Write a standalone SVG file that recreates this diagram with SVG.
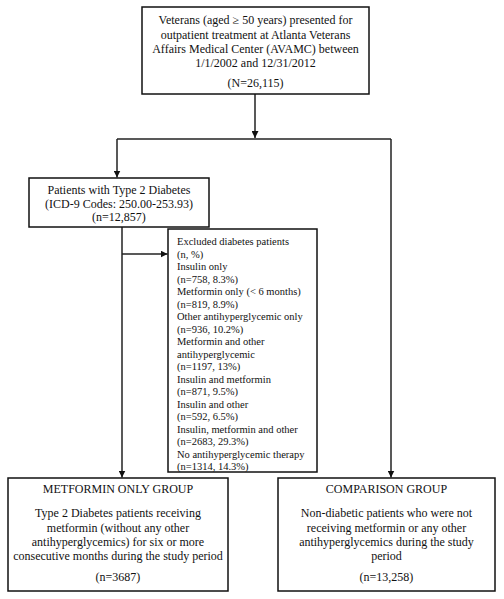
<svg xmlns="http://www.w3.org/2000/svg" width="504" height="599" viewBox="0 0 504 599">
<style>
.box{fill:#fff;stroke:#111;stroke-width:1.5}
.t{font-family:"Liberation Serif","Times New Roman",serif;font-size:12px;fill:#111}
.c{text-anchor:middle}
.s{font-size:10.5px}
.ln{fill:none;stroke:#222;stroke-width:1.5}
</style>
<defs>
<marker id="ah" viewBox="0 0 10 10" refX="10" refY="5" markerWidth="7" markerHeight="7" markerUnits="userSpaceOnUse" orient="auto">
<path d="M0,0 L10,5 L0,10 z" fill="#111"/>
</marker>
</defs>
<g id="connectors">
<line class="ln" x1="255" y1="94" x2="255" y2="138" marker-end="url(#ah)"/>
<line class="ln" x1="117" y1="139" x2="391" y2="139"/>
<line class="ln" x1="117" y1="139" x2="117" y2="177.5" marker-end="url(#ah)"/>
<line class="ln" x1="391" y1="139" x2="391" y2="477.5" marker-end="url(#ah)"/>
<line class="ln" x1="122" y1="227" x2="122" y2="477.5" marker-end="url(#ah)"/>
<line class="ln" x1="122" y1="254" x2="167.5" y2="254" marker-end="url(#ah)"/>
</g>
<g id="veterans">
<rect class="box" x="142" y="7" width="227" height="87"/>
<text class="t c" x="255.5" y="24">Veterans (aged ≥ 50 years) presented for</text>
<text class="t c" x="255.5" y="38.5">outpatient treatment at Atlanta Veterans</text>
<text class="t c" x="255.5" y="53">Affairs Medical Center (AVAMC) between</text>
<text class="t c" x="255.5" y="67">1/1/2002 and 12/31/2012</text>
<text class="t c" x="255.5" y="87">(N=26,115)</text>
</g>
<g id="diabetes">
<rect class="box" x="29" y="178" width="180" height="49"/>
<text class="t c" x="119" y="194">Patients with Type 2 Diabetes</text>
<text class="t c" x="119" y="207.5">(ICD-9 Codes: 250.00-253.93)</text>
<text class="t c" x="119" y="221">(n=12,857)</text>
</g>
<g id="excluded">
<rect class="box" x="168" y="229" width="149" height="243"/>
<text class="t s" x="177">
<tspan x="177" y="245">Excluded diabetes patients</tspan>
<tspan x="177" y="257.5">(n, %)</tspan>
<tspan x="177" y="270">Insulin only</tspan>
<tspan x="177" y="282.5">(n=758, 8.3%)</tspan>
<tspan x="177" y="295">Metformin only (&lt; 6 months)</tspan>
<tspan x="177" y="307.5">(n=819, 8.9%)</tspan>
<tspan x="177" y="320">Other antihyperglycemic only</tspan>
<tspan x="177" y="332.5">(n=936, 10.2%)</tspan>
<tspan x="177" y="345">Metformin and other</tspan>
<tspan x="177" y="357.5">antihyperglycemic</tspan>
<tspan x="177" y="370">(n=1197, 13%)</tspan>
<tspan x="177" y="382.5">Insulin and metformin</tspan>
<tspan x="177" y="395">(n=871, 9.5%)</tspan>
<tspan x="177" y="407.5">Insulin and other</tspan>
<tspan x="177" y="420">(n=592, 6.5%)</tspan>
<tspan x="177" y="432.5">Insulin, metformin and other</tspan>
<tspan x="177" y="445">(n=2683, 29.3%)</tspan>
<tspan x="177" y="457.5">No antihyperglycemic therapy</tspan>
<tspan x="177" y="470">(n=1314, 14.3%)</tspan>
</text>
</g>
<g id="metformin">
<rect class="box" x="8" y="478" width="220" height="113"/>
<text class="t c" x="118" y="493">METFORMIN ONLY GROUP</text>
<text class="t c" x="118" y="517">Type 2 Diabetes patients receiving</text>
<text class="t c" x="118" y="531.5">metformin (without any other</text>
<text class="t c" x="118" y="546">antihyperglycemics) for six or more</text>
<text class="t c" x="118" y="560">consecutive months during the study period</text>
<text class="t c" x="118" y="581">(n=3687)</text>
</g>
<g id="comparison">
<rect class="box" x="278" y="478" width="217" height="113"/>
<text class="t c" x="386.5" y="493">COMPARISON GROUP</text>
<text class="t c" x="386.5" y="517">Non-diabetic patients who were not</text>
<text class="t c" x="386.5" y="531.5">receiving metformin or any other</text>
<text class="t c" x="386.5" y="546">antihyperglycemics during the study</text>
<text class="t c" x="386.5" y="560">period</text>
<text class="t c" x="386.5" y="581">(n=13,258)</text>
</g>
</svg>
